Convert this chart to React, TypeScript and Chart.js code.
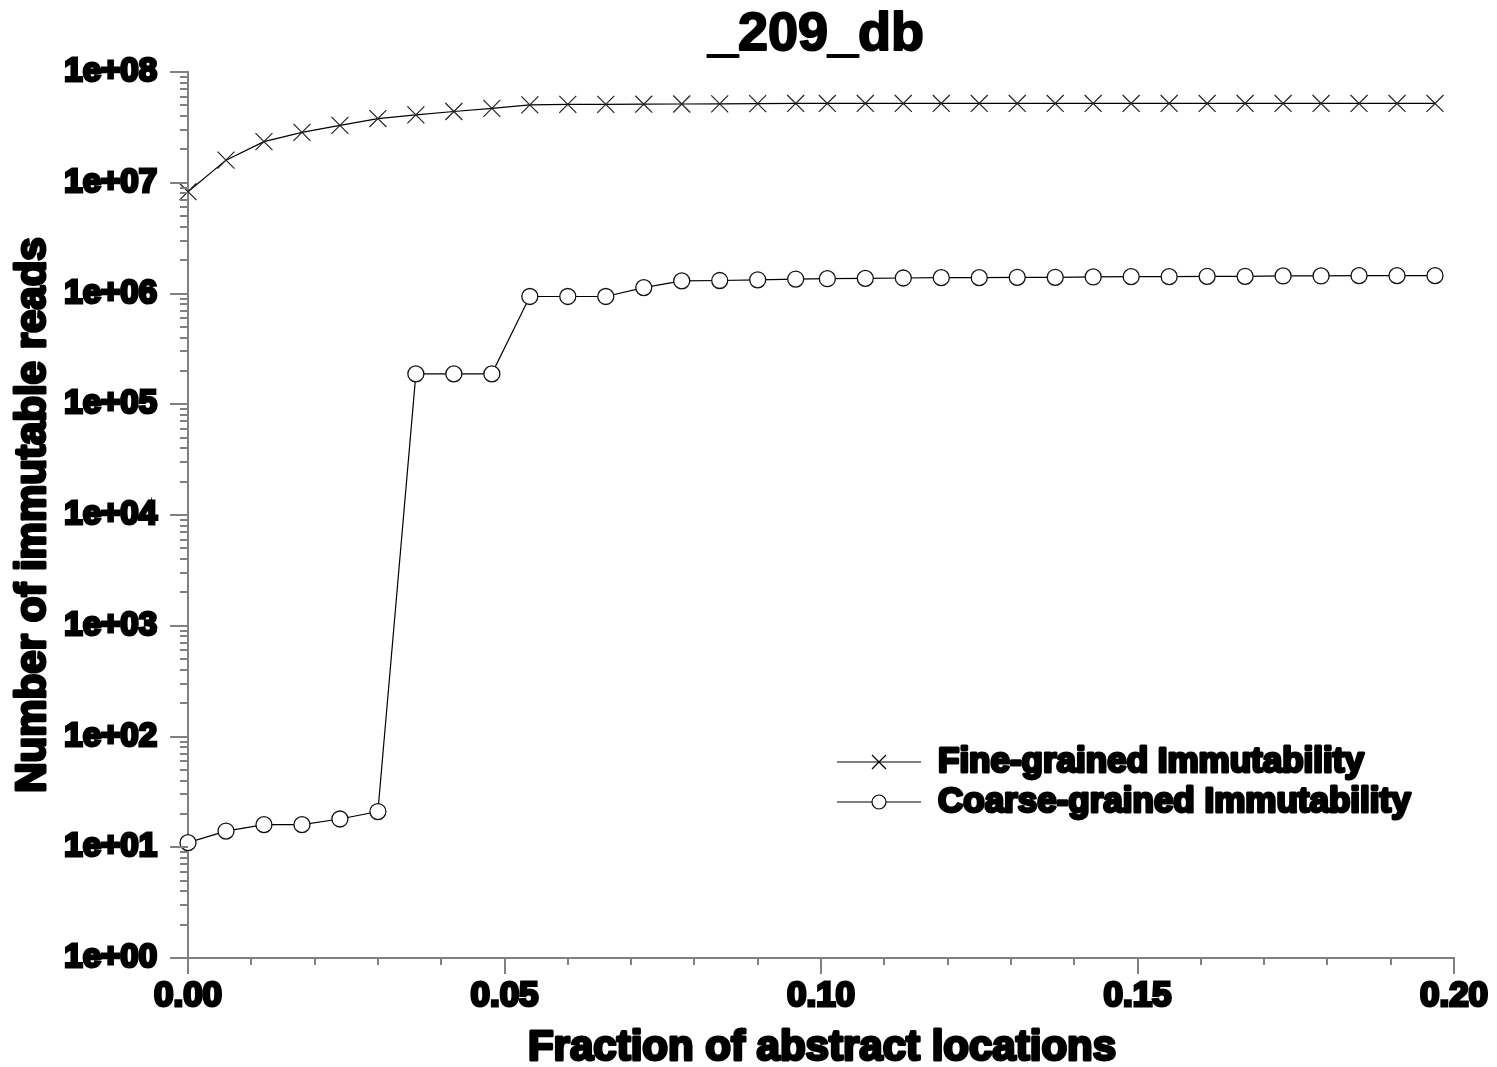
import React, { useEffect, useRef } from "react";
import { Chart, registerables } from "chart.js";

Chart.register(...registerables);

const chartTitle = "_209_db";
const xAxisTitle = "Fraction of abstract locations";
const yAxisTitle = "Number of immutable reads";
const seriesNames = ["Fine-grained Immutability", "Coarse-grained Immutability"];

const xValues = [
  0, 0.006, 0.012, 0.018, 0.024, 0.03, 0.036, 0.042, 0.048, 0.054, 0.06, 0.066,
  0.072, 0.078, 0.084, 0.09, 0.096, 0.101, 0.107, 0.113, 0.119, 0.125, 0.131,
  0.137, 0.143, 0.149, 0.155, 0.161, 0.167, 0.173, 0.179, 0.185, 0.191, 0.197,
];

const fineValues = [
  8.3e6, 1.6e7, 2.35e7, 2.85e7, 3.3e7, 3.8e7, 4.1e7, 4.4e7, 4.7e7, 5.05e7,
  5.1e7, 5.1e7, 5.12e7, 5.14e7, 5.16e7, 5.18e7, 5.2e7, 5.2e7, 5.2e7, 5.2e7,
  5.2e7, 5.2e7, 5.2e7, 5.2e7, 5.2e7, 5.2e7, 5.2e7, 5.2e7, 5.2e7, 5.2e7, 5.2e7,
  5.2e7, 5.2e7, 5.2e7,
];

const coarseValues = [
  11, 14, 16, 16, 18, 21, 1.88e5, 1.88e5, 1.88e5, 9.4e5, 9.4e5, 9.4e5, 1.13e6,
  1.3e6, 1.31e6, 1.33e6, 1.35e6, 1.36e6, 1.37e6, 1.38e6, 1.39e6, 1.39e6, 1.4e6,
  1.4e6, 1.41e6, 1.42e6, 1.42e6, 1.43e6, 1.43e6, 1.44e6, 1.44e6, 1.45e6, 1.45e6,
  1.45e6,
];

const xTickValues = [0, 0.05, 0.1, 0.15, 0.2];
const xTickLabels = ["0.00", "0.05", "0.10", "0.15", "0.20"];
const xMinorTicks = [0.01, 0.02, 0.03, 0.04, 0.06, 0.07, 0.08, 0.09, 0.11, 0.12, 0.13, 0.14, 0.16, 0.17, 0.18, 0.19];
const yTickValues = [1, 10, 100, 1e3, 1e4, 1e5, 1e6, 1e7, 1e8];
const yTickLabels = ["1e+00", "1e+01", "1e+02", "1e+03", "1e+04", "1e+05", "1e+06", "1e+07", "1e+08"];
const yMinorMultipliers = [2, 3, 4, 5, 6, 7, 8, 9];

const FONT = "'Liberation Sans', Arial, sans-serif";
const AXIS_COLOR = "#808080";

const decorPlugin = {
  id: "decor",
  afterDraw(chart: any) {
    const ctx = chart.ctx;
    const xs = chart.scales.x;
    const ys = chart.scales.y;
    const area = chart.chartArea;
    ctx.save();
    // ticks
    ctx.strokeStyle = AXIS_COLOR;
    ctx.lineWidth = 2;
    ctx.beginPath();
    xTickValues.forEach((v) => {
      const px = Math.round(xs.getPixelForValue(v));
      ctx.moveTo(px, area.bottom);
      ctx.lineTo(px, area.bottom + 16);
    });
    xMinorTicks.forEach((v) => {
      const px = Math.round(xs.getPixelForValue(v));
      ctx.moveTo(px, area.bottom);
      ctx.lineTo(px, area.bottom + 7);
    });
    yTickValues.forEach((v, i) => {
      const py = Math.round(ys.getPixelForValue(v));
      ctx.moveTo(area.left, py);
      ctx.lineTo(area.left - 18, py);
      if (i < yTickValues.length - 1) {
        yMinorMultipliers.forEach((m) => {
          const pm = Math.round(ys.getPixelForValue(v * m));
          ctx.moveTo(area.left, pm);
          ctx.lineTo(area.left - 8, pm);
        });
      }
    });
    ctx.stroke();

    const heavyText = (text: string, x: number, y: number, size: number, sw: number, align: CanvasTextAlign) => {
      ctx.font = `bold ${size}px ${FONT}`;
      ctx.textAlign = align;
      ctx.textBaseline = "middle";
      ctx.lineJoin = "round";
      ctx.fillStyle = "#000";
      ctx.strokeStyle = "#000";
      ctx.lineWidth = sw;
      if (sw > 0) ctx.strokeText(text, x, y);
      ctx.fillText(text, x, y);
    };

    // title
    heavyText(chartTitle, 816, 35, 54, 2, "center");
    // x axis title
    heavyText(xAxisTitle, 822, 1048, 42, 3, "center");
    // y axis title
    ctx.save();
    ctx.translate(33, 515);
    ctx.rotate(-Math.PI / 2);
    heavyText(yAxisTitle, 0, 0, 42, 3, "center");
    ctx.restore();

    // legend
    const rows = [762, 802];
    rows.forEach((ry, i) => {
      ctx.strokeStyle = "#000";
      ctx.lineWidth = 1.2;
      ctx.beginPath();
      ctx.moveTo(837, ry);
      ctx.lineTo(921, ry);
      ctx.stroke();
      if (i === 0) {
        const r = 7;
        ctx.beginPath();
        ctx.moveTo(879 - r, ry - r);
        ctx.lineTo(879 + r, ry + r);
        ctx.moveTo(879 - r, ry + r);
        ctx.lineTo(879 + r, ry - r);
        ctx.stroke();
      } else {
        ctx.beginPath();
        ctx.arc(879, ry, 7, 0, Math.PI * 2);
        ctx.fillStyle = "#fff";
        ctx.fill();
        ctx.stroke();
      }
      heavyText(seriesNames[i], 938, ry, 35, 3, "left");
    });
    ctx.restore();
  },
};

export default function App() {
  const canvasRef = useRef<HTMLCanvasElement | null>(null);

  useEffect(() => {
    const canvas = canvasRef.current;
    if (!canvas) return;
    const chart = new Chart(canvas, {
      type: "line",
      data: {
        datasets: [
          {
            label: seriesNames[0],
            data: xValues.map((x, i) => ({ x, y: fineValues[i] })),
            borderColor: "#000",
            borderWidth: 1.2,
            pointStyle: "crossRot",
            pointRadius: 12,
            pointBorderWidth: 1.2,
            pointBorderColor: "#222",
            pointBackgroundColor: "#fff",
            tension: 0,
            clip: false,
          },
          {
            label: seriesNames[1],
            data: xValues.map((x, i) => ({ x, y: coarseValues[i] })),
            borderColor: "#000",
            borderWidth: 1.2,
            pointStyle: "circle",
            pointRadius: 8,
            pointBorderWidth: 1.3,
            pointBorderColor: "#111",
            pointBackgroundColor: "#fff",
            tension: 0,
            clip: false,
          },
        ],
      },
      options: {
        animation: false,
        responsive: false,
        maintainAspectRatio: false,
        layout: { padding: { top: 72, right: 43, left: 0, bottom: 0 } },
        plugins: {
          legend: { display: false },
          title: { display: false },
          tooltip: { enabled: false },
        },
        scales: {
          x: {
            type: "linear",
            min: 0,
            max: 0.2,
            afterFit: (s: any) => {
              s.height = 109;
              s.paddingLeft = 0;
              s.paddingRight = 0;
            },
            afterBuildTicks: (s: any) => {
              s.ticks = xTickValues.map((v) => ({ value: v }));
            },
            grid: { display: false, drawTicks: false },
            border: { display: true, color: AXIS_COLOR, width: 2 },
            ticks: {
              padding: 17,
              color: "#000",
              font: { family: FONT, size: 35, weight: "bold" },
              textStrokeColor: "#000",
              textStrokeWidth: 3,
              maxRotation: 0,
              autoSkip: false,
              callback: (_v: any, i: number) => xTickLabels[i],
            },
          },
          y: {
            type: "logarithmic",
            min: 1,
            max: 1e8,
            afterFit: (s: any) => {
              s.width = 188;
              s.paddingTop = 0;
              s.paddingBottom = 0;
            },
            afterBuildTicks: (s: any) => {
              s.ticks = yTickValues.map((v) => ({ value: v }));
            },
            grid: { display: false, drawTicks: false },
            border: { display: true, color: AXIS_COLOR, width: 2 },
            ticks: {
              padding: 31,
              color: "#000",
              font: { family: FONT, size: 33, weight: "bold" },
              textStrokeColor: "#000",
              textStrokeWidth: 3,
              autoSkip: false,
              callback: (_v: any, i: number) => yTickLabels[i],
            },
          },
        },
      },
      plugins: [decorPlugin],
    } as any);
    return () => chart.destroy();
  }, []);

  return (
    <div style={{ position: "fixed", left: 0, top: 0, width: 1497, height: 1067, background: "#fff" }}>
      <canvas ref={canvasRef} width={1497} height={1067} style={{ width: 1497, height: 1067, display: "block" }} />
    </div>
  );
}
